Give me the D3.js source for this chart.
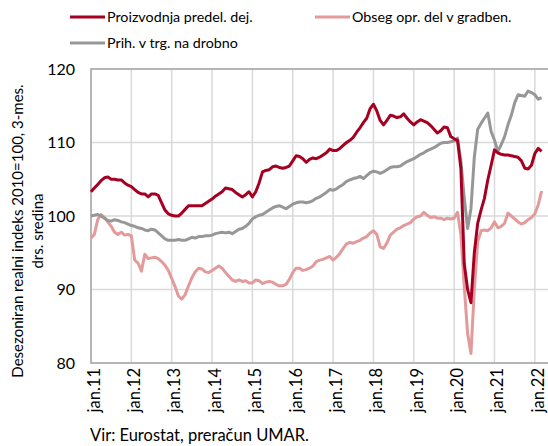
<!DOCTYPE html>
<html><head><meta charset="utf-8">
<script src="https://cdn.jsdelivr.net/npm/d3@7/dist/d3.min.js"></script>
<style>
body{margin:0;background:#fff;}
svg{display:block;font-family:Lato, "Open Sans", sans-serif;}
</style></head>
<body>
<svg id="chart" width="548" height="446"></svg>
<script>
const startYear = 2011;
const tickLabels = ["jan.11","jan.12","jan.13","jan.14","jan.15","jan.16","jan.17","jan.18","jan.19","jan.20","jan.21","jan.22"];
const yTicks = [80, 90, 100, 110, 120];
const seriesNames = ["Proizvodnja predel. dej.", "Obseg opr. del v gradben.", "Prih. v trg. na drobno"];
// monthly, Jan 2011 - Mar 2022
const proizvodnja = [
103.3,103.8,104.3,104.8,105.2,105.3,105.0,105.0,104.9,104.9,104.5,104.2,
104.0,103.6,103.2,103.0,103.0,102.6,103.0,103.0,102.8,101.8,100.8,100.3,
100.1,100.0,100.0,100.4,100.9,101.4,101.4,101.4,101.4,101.4,101.7,102.0,
102.3,102.7,103.0,103.3,103.8,103.7,103.6,103.2,102.9,102.6,102.9,103.3,
102.6,103.3,104.5,106.0,106.2,106.3,106.7,106.8,106.6,106.5,106.6,106.8,
107.5,108.2,108.1,107.8,107.3,107.7,107.9,107.8,108.0,108.3,108.6,109.1,
108.9,108.9,109.2,109.6,110.0,110.3,110.7,111.4,112.0,112.7,113.3,114.6,
115.2,114.3,113.0,112.4,113.0,113.7,113.6,113.4,113.5,113.9,113.3,112.8,
112.4,112.8,113.1,112.9,112.7,112.3,111.8,111.3,111.6,112.1,112.0,110.8,
110.5,110.3,106.5,93.5,90.0,88.2,95.0,99.0,100.8,102.4,104.9,106.9,
109.0,108.6,108.4,108.3,108.3,108.2,108.1,108.0,107.5,106.5,106.4,106.9,
108.5,109.2,108.8
];
const gradbenistvo = [
97.0,97.5,99.5,100.2,99.8,99.2,98.6,97.8,97.5,97.8,97.4,97.5,
97.3,94.0,93.6,92.5,94.8,94.2,94.3,94.4,94.2,93.8,93.3,92.6,
91.5,90.4,89.1,88.7,89.3,90.5,91.6,92.4,92.9,92.8,92.4,92.3,
92.6,92.9,93.2,92.9,92.3,91.8,91.3,91.1,91.3,91.1,91.2,90.9,
90.9,91.3,91.2,90.8,91.0,91.1,91.0,90.7,90.5,90.5,90.7,91.4,
92.3,92.9,92.9,92.6,92.7,92.9,93.2,93.8,94.0,94.1,94.3,94.5,
94.0,94.4,94.9,95.6,96.2,96.4,96.3,96.5,96.7,97.0,97.2,97.7,
98.0,97.5,95.8,95.6,96.3,97.4,97.8,98.2,98.4,98.7,98.9,99.1,
99.6,99.9,100.0,100.5,100.1,99.8,99.9,99.7,99.7,99.5,99.7,99.6,
99.7,100.5,97.5,90.5,84.0,81.3,90.0,96.5,98.0,98.1,98.0,98.4,
99.2,98.4,98.6,99.0,100.4,100.0,99.6,99.2,98.9,99.1,99.5,99.8,
100.3,101.5,103.4
];
const trgovina = [
100.0,100.1,100.2,100.0,99.7,99.4,99.3,99.5,99.4,99.2,99.1,98.9,
98.7,98.6,98.4,98.3,98.1,98.0,98.2,98.1,97.7,97.3,96.9,96.7,
96.7,96.7,96.8,96.7,96.7,96.9,97.1,97.0,97.2,97.2,97.3,97.3,
97.4,97.6,97.7,97.8,97.7,97.8,97.6,97.9,98.2,98.3,98.6,99.0,
99.6,99.9,100.1,100.2,100.5,100.8,101.1,101.3,101.4,101.2,101.0,101.3,
101.6,101.8,101.9,101.9,101.8,101.9,102.1,102.4,102.6,102.9,103.2,103.6,
103.5,103.7,104.0,104.3,104.7,104.9,105.1,105.2,105.4,105.1,105.5,105.9,
106.1,106.0,105.8,106.0,106.3,106.6,106.7,106.7,106.8,107.1,107.4,107.6,
107.8,108.1,108.4,108.6,108.9,109.1,109.3,109.6,109.9,110.0,110.0,110.1,
110.2,110.6,107.5,102.5,98.3,101.0,108.0,111.8,112.6,113.3,114.0,111.5,
110.3,108.8,109.7,110.8,112.4,113.7,115.4,116.5,116.4,116.3,117.0,116.8,
116.5,115.9,116.1
];
const colors = ["#a50021", "#e39a9a", "#979797"];

const svg = d3.select("#chart");
const plot = {left: 91, top: 69, right: 550, bottom: 363};
const x = d3.scaleLinear().domain([0, 132]).range([plot.left, 534.85]);
const y = d3.scaleLinear().domain([80, 120]).range([plot.bottom, plot.top]);

const tickIdx = tickLabels.map((d, i) => i * 12);

// grid
const g = svg.append("g");
g.selectAll("line.vg").data(tickIdx).join("line")
  .attr("x1", d => x(d)).attr("x2", d => x(d))
  .attr("y1", plot.top).attr("y2", plot.bottom)
  .attr("stroke", "#d9d9d9").attr("stroke-width", 1.5);
g.selectAll("line.hg").data(yTicks).join("line")
  .attr("x1", plot.left).attr("x2", plot.right)
  .attr("y1", d => y(d)).attr("y2", d => y(d))
  .attr("stroke", "#d9d9d9").attr("stroke-width", 1.5);
// border
svg.append("rect").attr("x", plot.left).attr("y", plot.top)
  .attr("width", plot.right - plot.left).attr("height", plot.bottom - plot.top)
  .attr("fill", "none").attr("stroke", "#a6a6a6").attr("stroke-width", 1.5);

// lines
const line = d3.line().x((d, i) => x(i)).y(d => y(d));
[[gradbenistvo, colors[1]], [trgovina, colors[2]], [proizvodnja, colors[0]]].forEach(([data, c]) => {
  svg.append("path").datum(data).attr("d", line)
    .attr("fill", "none").attr("stroke", c).attr("stroke-width", 3)
    .attr("stroke-linejoin", "round");
});

// y axis
const yAxis = d3.axisLeft(y).tickValues(yTicks).tickSize(0).tickPadding(16);
const ya = svg.append("g").attr("transform", `translate(${plot.left},0)`).call(yAxis);
ya.select(".domain").remove();
ya.selectAll("text").attr("font-size", 16).attr("fill", "#000").attr("font-family", "Lato");

// x axis
const xAxis = d3.axisBottom(x).tickValues(tickIdx).tickSize(0).tickFormat((d, i) => tickLabels[i]);
const xa = svg.append("g").attr("transform", `translate(0,${plot.bottom})`).call(xAxis);
xa.select(".domain").remove();
xa.selectAll("text").attr("font-size", 16.5).attr("fill", "#000").attr("font-family", "Lato")
  .attr("text-anchor", "end").attr("transform", "rotate(-90)")
  .attr("x", -5).attr("y", 0).attr("dy", "0.5em");

// y title
const yt = svg.append("text").attr("transform", "translate(0,231) rotate(-90)")
  .attr("text-anchor", "middle").attr("font-size", 15).attr("fill", "#000");
yt.append("tspan").attr("x", 0).attr("y", 23).text("Desezoniran realni indeks 2010=100, 3-mes.");
yt.append("tspan").attr("x", 0).attr("y", 43).text("drs. sredina");

// legend
const legendItems = [
  {name: seriesNames[0], color: colors[0], lx: 70, ly: 17},
  {name: seriesNames[1], color: colors[1], lx: 315, ly: 17},
  {name: seriesNames[2], color: colors[2], lx: 70, ly: 43}
];
const lg = svg.append("g").selectAll("g").data(legendItems).join("g")
  .attr("transform", d => `translate(${d.lx},${d.ly})`);
lg.append("line").attr("x1", 0).attr("x2", 35).attr("y1", 0).attr("y2", 0)
  .attr("stroke", d => d.color).attr("stroke-width", 3);
lg.append("text").attr("x", 37).attr("y", 5).attr("font-size", 14.3).attr("fill", "#000").text(d => d.name);

// source
svg.append("text").attr("x", 90).attr("y", 441).attr("font-size", 16.5).attr("fill", "#000")
  .text("Vir: Eurostat, preračun UMAR.");
</script>
</body></html>
